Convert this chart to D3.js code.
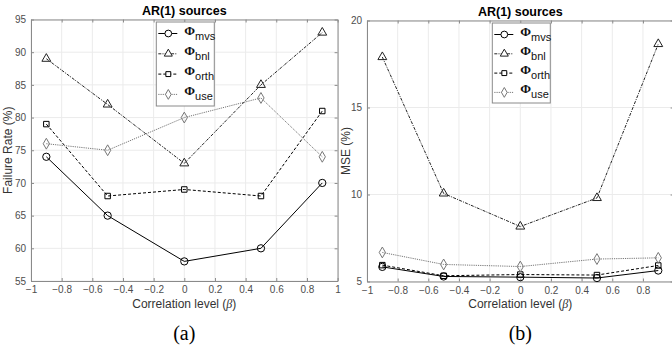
<!DOCTYPE html>
<html><head><meta charset="utf-8">
<script src="https://cdn.jsdelivr.net/npm/d3@7"></script>
<style>body{margin:0;background:#fff}svg{display:block}</style>
</head><body><svg id="c" width="672" height="346"></svg>
<script>
const betas = [-0.9, -0.5, 0, 0.5, 0.9];
const seriesNames = ["mvs", "bnl", "orth", "use"];
// (a) Failure rate (%)
const failMvs  = [74, 65, 58, 60, 70];
const failBnl  = [89, 82, 73, 85, 93];
const failOrth = [79, 68, 69, 68, 81];
const failUse  = [76, 75, 80, 83, 74];
// (b) MSE (%)
const mseMvs  = [5.84, 5.29, 5.25, 5.2, 5.63];
const mseBnl  = [17.9, 10.06, 8.16, 9.8, 18.65];
const mseOrth = [5.94, 5.33, 5.4, 5.37, 5.92];
const mseUse  = [6.67, 5.98, 5.86, 6.29, 6.36];
const xTicks = [-1, -0.8, -0.6, -0.4, -0.2, 0, 0.2, 0.4, 0.6, 0.8, 1];
const failTicks = [55, 60, 65, 70, 75, 80, 85, 90, 95];
const mseTicks = [5, 10, 15, 20];

const styles = {
  mvs:  {stroke:"#000", dash:null, sym:d3.symbolCircle, size:42},
  bnl:  {stroke:"#222", dash:"3,1.2,1,1.2", sym:d3.symbolTriangle, size:34},
  orth: {stroke:"#000", dash:"3,2", sym:d3.symbolSquare, size:30},
  use:  {stroke:"#777", dash:"1.2,1", sym:d3.symbolDiamond, size:34}
};

const svg = d3.select("#c");
const font = "'Liberation Sans', Arial, sans-serif";

function panel(opt){
  const g = svg.append("g");
  const x = d3.scaleLinear().domain([-1,1]).range([opt.x0, opt.x0+306.6]);
  const y = d3.scaleLinear().domain(opt.ydom).range([opt.y1, opt.y0]);
  const [X0,X1] = x.range(), [Y1,Y0] = y.range();
  g.selectAll(".gx").data(xTicks).join("line")
    .attr("x1",d=>x(d)).attr("x2",d=>x(d)).attr("y1",Y0).attr("y2",Y1)
    .attr("stroke","#ebebeb").attr("stroke-width",1);
  g.selectAll(".gy").data(opt.yticks).join("line")
    .attr("x1",X0).attr("x2",X1).attr("y1",d=>y(d)).attr("y2",d=>y(d))
    .attr("stroke","#ebebeb").attr("stroke-width",1);
  const ax = (gen, tr) => g.append("g").attr("transform",tr).call(gen)
     .call(s=>s.select(".domain").attr("stroke","#8a8a8a"))
     .call(s=>s.selectAll(".tick line").attr("stroke","#8a8a8a"))
     .call(s=>s.selectAll("text").attr("fill","#4d4d4d").attr("font-size","10px").attr("font-family",font));
  const xl_fmt = d => (opt.skipLastX && d === 1) ? "" : d3.format("")(d);
  ax(d3.axisBottom(x).tickValues(xTicks).tickSizeInner(-3).tickSizeOuter(0).tickPadding(5).tickFormat(xl_fmt), `translate(0,${Y1})`);
  ax(d3.axisTop(x).tickValues(xTicks).tickSizeInner(-3).tickSizeOuter(0).tickFormat(""), `translate(0,${Y0})`);
  ax(d3.axisLeft(y).tickValues(opt.yticks).tickSizeInner(-3).tickSizeOuter(0).tickPadding(5), `translate(${X0},0)`);
  ax(d3.axisRight(y).tickValues(opt.yticks).tickSizeInner(-3).tickSizeOuter(0).tickFormat(""), `translate(${X1},0)`);
  const line = d3.line().x((d,i)=>x(betas[i])).y(d=>y(d));
  opt.series.forEach((vals,k)=>{
    const st = styles[seriesNames[k]];
    g.append("path").datum(vals).attr("d",line).attr("fill","none")
      .attr("stroke",st.stroke).attr("stroke-width",1).attr("stroke-dasharray",st.dash);
    g.selectAll(null).data(vals).join("path")
      .attr("d",d3.symbol(st.sym,st.size)).attr("transform",(d,i)=>`translate(${x(betas[i])},${y(d)})`)
      .attr("fill","none").attr("stroke",st.stroke).attr("stroke-width",1);
  });
  g.append("text").attr("x",x(0)).attr("y",opt.y0-5).attr("text-anchor","middle")
    .attr("font-family",font).attr("font-weight","bold").attr("font-size","12.5px").attr("fill","#000").text("AR(1) sources");
  const xl = g.append("text").attr("x",x(0)).attr("y",308).attr("text-anchor","middle")
    .attr("font-family",font).attr("font-size","12px").attr("fill","#333");
  xl.append("tspan").text("Correlation level (");
  xl.append("tspan").attr("font-style","italic").attr("font-family","'Liberation Serif', serif").text("β");
  xl.append("tspan").text(")");
  g.append("text").attr("transform",`translate(${opt.ylabX},${(Y0+Y1)/2}) rotate(-90)`).attr("text-anchor","middle")
    .attr("font-family",font).attr("font-size","12px").attr("fill","#333").text(opt.ylabel);
  g.append("text").attr("x",x(0)).attr("y",340).attr("text-anchor","middle")
    .attr("font-family","'Liberation Serif', 'Times New Roman', serif").attr("font-size","20px").attr("fill","#000").text(opt.letter);
  const lx = x(0)-28, ly = opt.y0+2.5;
  const lg = g.append("g");
  lg.append("rect").attr("x",lx).attr("y",ly).attr("width",58).attr("height",opt.legH)
    .attr("fill","#fff").attr("stroke","#8a8a8a").attr("stroke-width",1);
  seriesNames.forEach((nm,k)=>{
    const st = styles[nm]; const cy = ly+11.5+k*opt.legStep;
    lg.append("line").attr("x1",lx+2).attr("x2",lx+21).attr("y1",cy).attr("y2",cy)
      .attr("stroke",st.stroke).attr("stroke-dasharray",st.dash);
    lg.append("path").attr("d",d3.symbol(st.sym,st.size-6)).attr("transform",`translate(${lx+12},${cy})`)
      .attr("fill","#fff").attr("stroke",st.stroke);
    const t = lg.append("text").attr("x",lx+28).attr("y",cy+1).attr("font-size","13px").attr("fill","#111");
    t.append("tspan").attr("font-family","'Liberation Serif', serif").attr("font-weight","bold").text("Φ");
    t.append("tspan").attr("font-family",font).attr("font-size","11px").attr("dy",5).text(nm);
  });
}

panel({x0:31, y0:19.5, y1:281, ydom:[55,95], yticks:failTicks, series:[failMvs,failBnl,failOrth,failUse],
       ylabel:"Failure Rate (%)", ylabX:12, letter:"(a)", legH:84, legStep:20.3, skipLastX:false});
panel({x0:367, y0:20.5, y1:281.5, ydom:[5,20], yticks:mseTicks, series:[mseMvs,mseBnl,mseOrth,mseUse],
       ylabel:"MSE (%)", ylabX:350, letter:"(b)", legH:80, legStep:19.3, skipLastX:true});
</script></body></html>
